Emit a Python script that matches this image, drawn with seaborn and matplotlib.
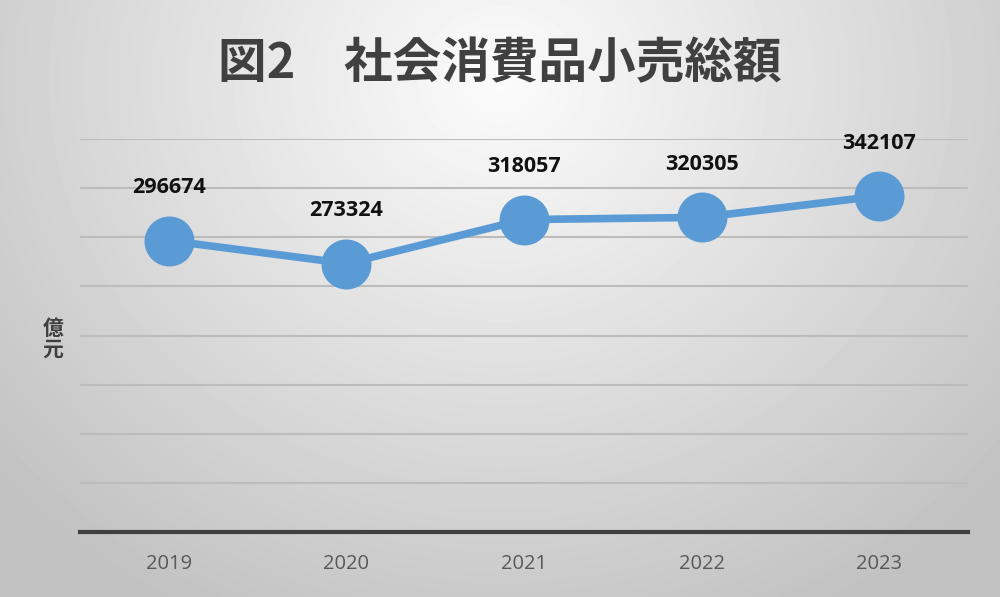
import numpy as np
import pandas as pd
import matplotlib
matplotlib.use("Agg")
import matplotlib.pyplot as plt
import seaborn as sns

# --- data ---
years = ["2019", "2020", "2021", "2022", "2023"]
sales = [296674, 273324, 318057, 320305, 342107]
title = "図2　社会消費品小売総額"
unit_label = "億\n元"

df = pd.DataFrame({"year": years, "sales": sales})

sns.set_theme(style="white")
plt.rcParams["font.family"] = ["Noto Sans CJK JP", "DejaVu Sans"]

fig = plt.figure(figsize=(10, 5.97), dpi=100)

# radial grey background, lightest near the title
bg = fig.add_axes([0, 0, 1, 1], zorder=0)
h, w = 597, 1000
yy, xx = np.mgrid[0:h, 0:w]
r = np.sqrt(((xx - 500) / 620.0) ** 2 + ((yy - 80) / 560.0) ** 2)
shade = np.clip(0.985 - 0.21 * r, 0.76, 1.0)
bg.imshow(shade, cmap="gray", vmin=0, vmax=1, aspect="auto",
          extent=[0, 1, 0, 1], interpolation="bilinear")
bg.axis("off")

ax = fig.add_axes([0.08, 0.109, 0.888, 0.658], zorder=1)
ax.set_facecolor("none")

sns.lineplot(data=df, x="year", y="sales", ax=ax, color="#5B9BD5",
             linewidth=5.5, marker="o", markersize=36,
             markeredgewidth=0, sort=False)

ax.set_ylim(0, 400000)
ax.set_xlim(-0.5, len(years) - 0.5)
ax.set_yticks(np.arange(50000, 400001, 50000))
ax.yaxis.grid(True, color="#bcbcbc", linewidth=1.5)
ax.set_axisbelow(True)
ax.tick_params(axis="y", left=False, labelleft=False)
ax.tick_params(axis="x", bottom=False, labelsize=14.5, labelcolor="#595959", pad=10)
for lab in ax.get_xticklabels():
    lab.set_family(["Open Sans", "DejaVu Sans"])
for side in ["top", "right", "left"]:
    ax.spines[side].set_visible(False)
ax.spines["bottom"].set_color("#404040")
ax.spines["bottom"].set_linewidth(3)
ax.set_xlabel("")
ax.set_ylabel("")

for i, v in enumerate(sales):
    ax.annotate(f"{v}", (i, v), xytext=(0, 38), textcoords="offset points",
                ha="center", va="center", fontsize=15.5, fontweight="bold",
                color="#111111", family=["Open Sans", "DejaVu Sans"])

fig.text(0.5, 0.893, title, ha="center", va="center", fontsize=35,
         fontweight="bold", color="#404040")
fig.text(0.053, 0.432, unit_label, ha="center", va="center", fontsize=15,
         fontweight="bold", color="#404040", linespacing=1.0)

fig.savefig("out.png", dpi=100)
